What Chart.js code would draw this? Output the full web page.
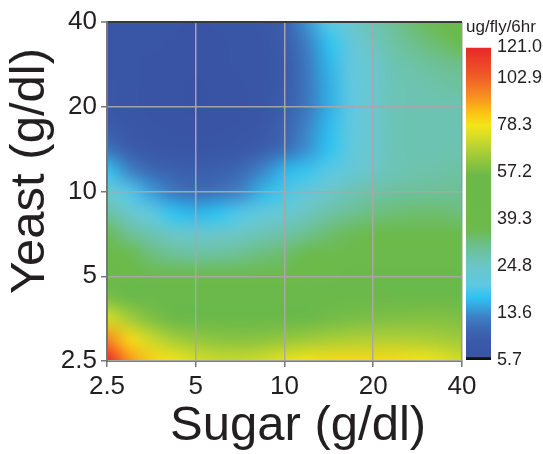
<!DOCTYPE html>
<html>
<head>
<meta charset="utf-8">
<script src="https://cdn.jsdelivr.net/npm/chart.js@4.4.1/dist/chart.umd.min.js"></script>
<style>
  html, body { margin: 0; padding: 0; background: #fff; }
  #wrap { position: relative; width: 543px; height: 454px; }
  #wrap canvas { position: absolute; top: 0; }
  #main { left: 0; }
  #bar { left: 455px; }
</style>
</head>
<body>
<div id="wrap">
  <canvas id="main" width="543" height="454"></canvas>
  <canvas id="bar" width="88" height="454"></canvas>
</div>
<script>
// grid nodes (quarter steps on the log axes)
const sugarLevels = [2.5, 2.97, 3.54, 4.2, 5, 5.95, 7.07, 8.41, 10, 11.9, 14.1, 16.8, 20, 23.8, 28.3, 33.6, 40];
const yeastLevels = [40, 33.6, 28.3, 23.8, 20, 16.8, 14.1, 11.9, 10, 8.41, 7.07, 5.95, 5, 4.2, 3.54, 2.97, 2.5];

// intake, ug/fly/6hr; one row per yeast level (top to bottom), one column per sugar level
const intake = [
  [7.0, 6.8, 6.5, 6.3, 6.2, 6.3, 6.6, 7.2, 9.0, 14.0, 19.5, 24.0, 27.0, 30.0, 33.5, 37.0, 41.0],
  [7.0, 6.6, 6.3, 6.1, 6.0, 6.1, 6.4, 7.0, 8.8, 12.5, 17.0, 21.5, 25.5, 28.5, 31.0, 33.5, 36.0],
  [7.0, 6.5, 6.2, 6.0, 5.9, 6.0, 6.3, 6.9, 8.5, 12.0, 16.0, 21.0, 24.0, 27.0, 28.5, 30.0, 31.0],
  [7.1, 6.5, 6.1, 5.9, 5.8, 5.9, 6.2, 6.9, 8.6, 11.8, 15.5, 20.5, 24.0, 26.5, 27.5, 28.0, 29.0],
  [7.3, 6.6, 6.2, 5.9, 5.8, 5.9, 6.2, 7.0, 9.0, 12.0, 15.5, 20.0, 24.0, 26.5, 27.0, 27.0, 27.0],
  [8.8, 7.2, 6.5, 6.1, 6.0, 6.1, 6.5, 7.5, 9.8, 13.0, 16.5, 20.5, 24.0, 26.5, 27.0, 27.0, 27.0],
  [11.5, 8.8, 7.5, 6.8, 6.7, 7.0, 7.7, 9.0, 11.0, 13.8, 17.0, 21.0, 24.0, 26.5, 27.0, 27.0, 27.5],
  [17.5, 13.0, 10.5, 9.5, 9.0, 9.3, 10.5, 13.0, 16.0, 17.5, 19.5, 22.0, 25.0, 26.5, 27.5, 28.0, 28.5],
  [23.0, 19.0, 14.5, 12.0, 11.0, 11.5, 13.0, 16.0, 18.5, 21.5, 24.0, 26.5, 28.0, 29.0, 29.5, 30.0, 30.0],
  [28.5, 24.0, 20.5, 17.0, 16.0, 17.0, 19.0, 21.0, 23.0, 25.5, 28.0, 30.0, 31.5, 32.5, 33.0, 33.0, 32.0],
  [35.0, 30.0, 27.0, 24.5, 23.5, 24.0, 25.0, 26.5, 28.0, 30.5, 33.0, 35.0, 37.0, 38.0, 38.5, 38.0, 36.0],
  [41.0, 36.0, 32.0, 30.0, 29.0, 29.5, 30.5, 32.0, 33.5, 36.5, 39.5, 41.5, 42.5, 43.0, 43.0, 42.5, 41.0],
  [48.0, 44.0, 40.5, 38.5, 38.0, 38.0, 38.5, 39.5, 41.0, 43.0, 45.0, 46.5, 47.0, 47.5, 47.5, 47.0, 46.0],
  [58.0, 53.0, 50.0, 48.0, 47.0, 46.5, 46.5, 47.0, 48.0, 49.5, 51.0, 52.0, 52.5, 53.0, 53.0, 52.5, 52.0],
  [73.0, 65.0, 59.0, 56.0, 54.0, 53.0, 53.0, 53.5, 54.5, 55.5, 57.0, 58.0, 58.5, 59.0, 59.5, 59.5, 59.0],
  [96.0, 81.0, 71.0, 65.5, 62.5, 61.0, 60.5, 61.0, 62.5, 64.0, 65.5, 66.5, 67.0, 67.0, 66.5, 65.5, 64.0],
  [121.0, 93.0, 82.0, 78.0, 73.0, 71.0, 70.5, 72.5, 76.0, 78.5, 80.0, 80.5, 80.5, 80.0, 78.5, 76.0, 72.0]
];

const axisTicks = [2.5, 5, 10, 20, 40];
const axisTickLabels = ['2.5', '5', '10', '20', '40'];
const colorTicks = [5.7, 13.6, 24.8, 39.3, 57.2, 78.3, 102.9, 121.0];
const colorTickLabels = ['5.7', '13.6', '24.8', '39.3', '57.2', '78.3', '102.9', '121.0'];

// colour ramp, position on the sqrt scale of the legend
const rampStops = [
  [0.00, '#3953a4'], [0.06, '#3a5aa9'], [0.10, '#3c68b2'], [0.14, '#3e82c5'],
  [0.17, '#36a4de'], [0.20, '#2ec2f0'], [0.24, '#5ec8e4'], [0.30, '#6cc6c8'],
  [0.36, '#6dc094'], [0.42, '#6cba4c'], [0.59, '#6bb94a'], [0.66, '#a6cc38'],
  [0.71, '#d2dc28'], [0.75, '#f4e41a'], [0.79, '#fcc414'], [0.84, '#f7921f'],
  [0.91, '#f05a29'], [1.00, '#e8262a']
];

const FONT = '"Liberation Sans", Arial, Helvetica, sans-serif';
const TEXT = '#231f20';
const vMin = colorTicks[0];
const vMax = colorTicks[colorTicks.length - 1];

function hexRgb(h) {
  return [1, 3, 5].map(k => parseInt(h.slice(k, k + 2), 16));
}

function valueColor(v) {
  let t = (Math.sqrt(v) - Math.sqrt(vMin)) / (Math.sqrt(vMax) - Math.sqrt(vMin));
  t = Math.min(1, Math.max(0, t));
  for (let k = 1; k < rampStops.length; k++) {
    const [t1, c1] = rampStops[k];
    if (t <= t1) {
      const [t0, c0] = rampStops[k - 1];
      const f = (t - t0) / (t1 - t0);
      const a = hexRgb(c0), b = hexRgb(c1);
      return 'rgb(' + a.map((q, n) => Math.round(q + (b[n] - q) * f)).join(',') + ')';
    }
  }
  return rampStops[rampStops.length - 1][1];
}

const cells = [];
yeastLevels.forEach((yv, j) => {
  sugarLevels.forEach((sv, i) => {
    cells.push({ x: sv, y: yv, v: intake[j][i] });
  });
});

function cellRadius(c) {
  const a = c.chart.chartArea;
  if (!a) return 10;
  const half = Math.max(a.width / (sugarLevels.length - 1), a.height / (yeastLevels.length - 1)) / 2;
  return (half + 0.6) / Math.SQRT1_2;
}

// resamples the drawn cells (one sample per node) and paints them back smoothly
const smoothField = {
  id: 'smoothField',
  afterDatasetsDraw(chart) {
    const { ctx, canvas, scales } = chart;
    const a = chart.chartArea;
    const nx = sugarLevels.length, ny = yeastLevels.length;
    const x0 = scales.x.getPixelForValue(sugarLevels[0]);
    const x1 = scales.x.getPixelForValue(sugarLevels[nx - 1]);
    const yTop = scales.y.getPixelForValue(yeastLevels[0]);
    const yBot = scales.y.getPixelForValue(yeastLevels[ny - 1]);
    const dx = (x1 - x0) / (nx - 1), dy = (yBot - yTop) / (ny - 1);
    const left = x0 - dx / 2, top = yTop - dy / 2, w = dx * nx, h = dy * ny;
    const r = chart.currentDevicePixelRatio;
    const small = document.createElement('canvas');
    small.width = nx;
    small.height = ny;
    const sctx = small.getContext('2d');
    sctx.imageSmoothingEnabled = false;
    sctx.drawImage(canvas, left * r, top * r, w * r, h * r, 0, 0, nx, ny);
    ctx.save();
    ctx.clearRect(left - 2, top - 2, w + 4, h + 4);
    ctx.beginPath();
    ctx.rect(a.left, a.top, a.width, a.height);
    ctx.clip();
    ctx.imageSmoothingEnabled = true;
    ctx.imageSmoothingQuality = 'high';
    ctx.drawImage(small, left, top, w, h);
    ctx.restore();
  }
};

function axisOptions(pos) {
  const horiz = pos === 'bottom';
  return {
    type: 'logarithmic',
    position: pos,
    min: axisTicks[0],
    max: axisTicks[axisTicks.length - 1],
    afterBuildTicks: s => { s.ticks = axisTicks.map(v => ({ value: v })); },
    afterFit: s => { if (horiz) s.height = 93; else s.width = 107; },
    ticks: {
      z: 1,
      autoSkip: false,
      maxRotation: 0,
      padding: 4,
      color: TEXT,
      font: { family: FONT, size: 26 },
      callback: (v, i) => axisTickLabels[i]
    },
    grid: {
      z: 1,
      color: c => (c.tick && c.tick.value === 40) ? (horiz ? '#999999' : '#3a3a3a') : 'rgba(168,168,168,0.95)',
      lineWidth: c => (!horiz && c.tick && c.tick.value === 40) ? 2 : 1.5,
      tickLength: 6,
      tickColor: '#777777',
      tickWidth: 1.5
    },
    border: { z: 1, color: horiz ? '#555555' : '#777777', width: 2 },
    title: {
      display: true,
      text: horiz ? '  Sugar (g/dl)' : '   Yeast (g/dl)',
      color: TEXT,
      font: { family: FONT, size: 49, lineHeight: 1 },
      padding: horiz ? { top: 0, bottom: 3.5 } : { top: 5.5, bottom: 0 }
    }
  };
}

new Chart(document.getElementById('main'), {
  type: 'scatter',
  data: {
    datasets: [{
      data: cells,
      pointStyle: 'rect',
      pointRadius: cellRadius,
      pointHoverRadius: cellRadius,
      pointBorderWidth: 0,
      pointBackgroundColor: c => (c.raw ? valueColor(c.raw.v) : '#000'),
      clip: 16
    }]
  },
  options: {
    responsive: false,
    animation: false,
    events: [],
    layout: { padding: { left: 0, top: 22, right: 81, bottom: 0 } },
    plugins: { legend: { display: false }, tooltip: { enabled: false } },
    scales: { x: axisOptions('bottom'), y: axisOptions('left') }
  },
  plugins: [smoothField]
});

function barGradient(c) {
  const ch = c.chart;
  if (!ch.chartArea) return '#3953a4';
  const ys = ch.scales.y;
  const g = ch.ctx.createLinearGradient(0, ys.getPixelForValue(ys.min), 0, ys.getPixelForValue(ys.max));
  rampStops.forEach(([t, col]) => g.addColorStop(t, col));
  return g;
}

new Chart(document.getElementById('bar'), {
  type: 'bar',
  data: {
    labels: ['ug/fly/6hr'],
    datasets: [{
      data: [[Math.sqrt(vMin), Math.sqrt(vMax)]],
      backgroundColor: barGradient,
      borderColor: '#111111',
      borderWidth: { top: 0, left: 0, right: 0, bottom: 3 },
      borderSkipped: false,
      barPercentage: 1,
      categoryPercentage: 1
    }]
  },
  options: {
    responsive: false,
    animation: false,
    events: [],
    layout: { padding: { left: 11, right: 0, top: 17, bottom: 94 } },
    plugins: {
      legend: { display: false },
      tooltip: { enabled: false },
      title: {
        display: true,
        text: 'ug/fly/6hr',
        align: 'start',
        color: TEXT,
        font: { family: FONT, size: 17, weight: 'normal', lineHeight: 1.2 },
        padding: { top: 0, bottom: 10 }
      }
    },
    scales: {
      x: { display: false },
      y: {
        position: 'right',
        min: Math.sqrt(vMin),
        max: Math.sqrt(vMax),
        afterBuildTicks: s => { s.ticks = colorTicks.map(v => ({ value: Math.sqrt(v) })); },
        afterFit: s => { s.width = 52; },
        ticks: {
          autoSkip: false,
          padding: 6,
          color: TEXT,
          font: { family: FONT, size: 18 },
          callback: (v, i) => colorTickLabels[i]
        },
        grid: { display: false, drawTicks: false },
        border: { display: false }
      }
    }
  }
});
</script>
</body>
</html>
